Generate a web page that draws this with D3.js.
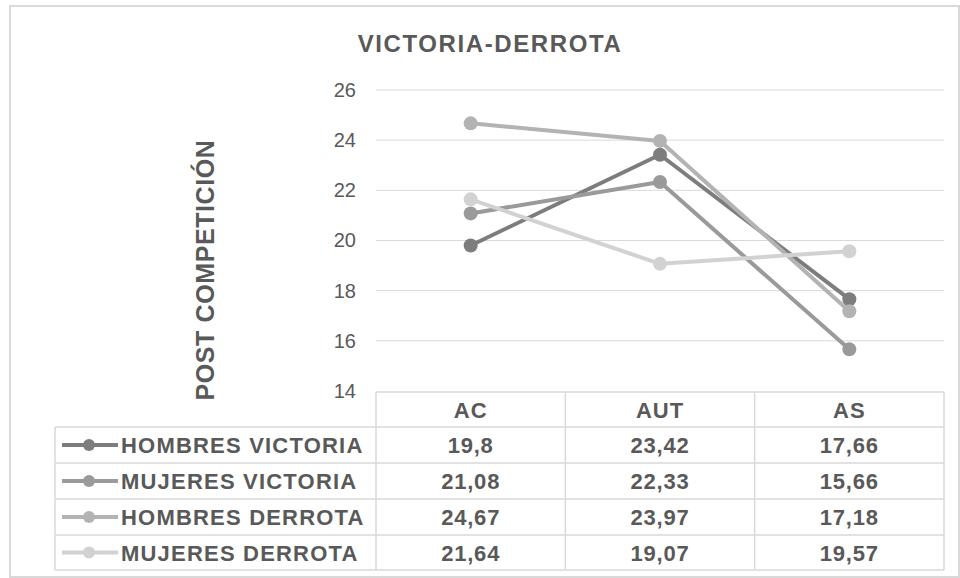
<!DOCTYPE html>
<html><head><meta charset="utf-8">
<script src="https://cdn.jsdelivr.net/npm/d3@7"></script>
<style>body{margin:0;background:#fff;}svg{display:block;font-family:"Liberation Sans",Arial,sans-serif;}</style>
</head><body><svg id="c" width="960" height="578"></svg>
<script>
const title = "VICTORIA-DERROTA";
const yTitle = "POST COMPETICIÓN";
const categories = ["AC", "AUT", "AS"];
const seriesNames = ["HOMBRES VICTORIA", "MUJERES VICTORIA", "HOMBRES DERROTA", "MUJERES DERROTA"];
const hombresVictoria = [19.8, 23.42, 17.66];
const mujeresVictoria = [21.08, 22.33, 15.66];
const hombresDerrota = [24.67, 23.97, 17.18];
const mujeresDerrota = [21.64, 19.07, 19.57];
const yTicks = [14, 16, 18, 20, 22, 24, 26];
const colors = ["#7d7d7d", "#9a9a9a", "#b3b3b3", "#d2d2d2"];

const seriesValues = [hombresVictoria, mujeresVictoria, hombresDerrota, mujeresDerrota];
const series = seriesNames.map((n, i) => ({name: n, values: seriesValues[i], color: colors[i]}));

const svg = d3.select("#c");
const textColor = "#595959";
const gridColor = "#d9d9d9";

// outer frame
svg.append("rect").attr("x", 10).attr("y", 6).attr("width", 949).attr("height", 571)
  .attr("fill", "#fff").attr("stroke", "#d9d9d9").attr("stroke-width", 2);

const plotL = 376, plotR = 944, plotT = 90, plotB = 391;
const x = d3.scaleBand().domain(categories).range([plotL, plotR]);
const y = d3.scaleLinear().domain([14, 26]).range([plotB, plotT]);

// title
svg.append("text").attr("x", 490).attr("y", 52).attr("text-anchor", "middle")
  .attr("font-size", 24).attr("font-weight", "bold").attr("fill", textColor)
  .attr("letter-spacing", 1.6)
  .text(title);

// gridlines
svg.append("g").selectAll("line").data(yTicks.filter(t => t > 14)).join("line")
  .attr("x1", plotL).attr("x2", plotR)
  .attr("y1", d => y(d)).attr("y2", d => y(d))
  .attr("stroke", gridColor).attr("stroke-width", 1);

// y axis labels
const yAxis = d3.axisLeft(y).tickValues(yTicks).tickSize(0).tickPadding(0).tickFormat(d3.format("d"));
const ya = svg.append("g").attr("transform", `translate(${356},0)`).call(yAxis);
ya.select(".domain").remove();
ya.selectAll("text").attr("font-size", 20).attr("fill", textColor)
  .attr("font-family", "Liberation Sans, Arial, sans-serif");

// y title
svg.append("text").attr("transform", "translate(214,270) rotate(-90)")
  .attr("text-anchor", "middle").attr("font-size", 25).attr("font-weight", "bold")
  .attr("letter-spacing", 0.6)
  .attr("fill", textColor).text(yTitle);

// lines
const line = d3.line().x((d, i) => x(categories[i]) + x.bandwidth() / 2).y(d => y(d));
const sg = svg.append("g").selectAll("g").data(series).join("g");
sg.append("path").attr("d", d => line(d.values)).attr("fill", "none")
  .attr("stroke", d => d.color).attr("stroke-width", 4).attr("stroke-linejoin", "round");
sg.selectAll("circle").data(d => d.values.map((v, i) => ({v, i, c: d.color}))).join("circle")
  .attr("cx", d => x(categories[d.i]) + x.bandwidth() / 2).attr("cy", d => y(d.v))
  .attr("r", 7).attr("fill", d => d.c);

// data table
const rowH = 36;
const tableTop = plotB + 1;
const labelL = 55;
const tg = svg.append("g");
function rowY(r) { return tableTop + rowH * r - (r ? 1 : 0); }
const nRows = series.length + 1;
const bottomY = rowY(nRows) - 1;
const hl = (x1, x2, yy) => tg.append("line").attr("x1", x1).attr("x2", x2).attr("y1", yy).attr("y2", yy)
  .attr("stroke", gridColor).attr("stroke-width", 1.5);
const vl = (xx, y1, y2) => tg.append("line").attr("x1", xx).attr("x2", xx).attr("y1", y1).attr("y2", y2)
  .attr("stroke", gridColor).attr("stroke-width", 1.5);
hl(plotL, plotR, tableTop);
for (let r = 1; r <= series.length; r++) hl(labelL, plotR, rowY(r));
hl(labelL, plotR, bottomY);
vl(labelL, rowY(1), bottomY);
categories.forEach(c => vl(x(c), tableTop, bottomY));
vl(plotR, tableTop, bottomY);

const cellFont = 22;
categories.forEach(c => {
  tg.append("text").attr("x", x(c) + x.bandwidth() / 2).attr("y", (rowY(0) + rowY(1)) / 2 + 8)
    .attr("text-anchor", "middle").attr("font-size", cellFont).attr("font-weight", "bold")
    .attr("letter-spacing", 1)
    .attr("fill", textColor).text(c);
});
const fmt = v => String(v).replace(".", ",");
series.forEach((s, r) => {
  const top = rowY(r + 1), bot = r + 2 === nRows ? bottomY : rowY(r + 2);
  const cy = (top + bot) / 2;
  tg.append("line").attr("x1", 62).attr("x2", 118).attr("y1", cy).attr("y2", cy)
    .attr("stroke", s.color).attr("stroke-width", 4);
  tg.append("circle").attr("cx", 89).attr("cy", cy).attr("r", 6).attr("fill", s.color);
  tg.append("text").attr("x", 121).attr("y", cy + 8).attr("font-size", cellFont).attr("font-weight", "bold")
    .attr("letter-spacing", 1.2)
    .attr("fill", textColor).text(s.name);
  s.values.forEach((v, i) => {
    tg.append("text").attr("x", x(categories[i]) + x.bandwidth() / 2).attr("y", cy + 8)
      .attr("text-anchor", "middle").attr("font-size", cellFont).attr("font-weight", "bold")
      .attr("letter-spacing", 0.8)
      .attr("fill", textColor).text(fmt(v));
  });
});
</script></body></html>
